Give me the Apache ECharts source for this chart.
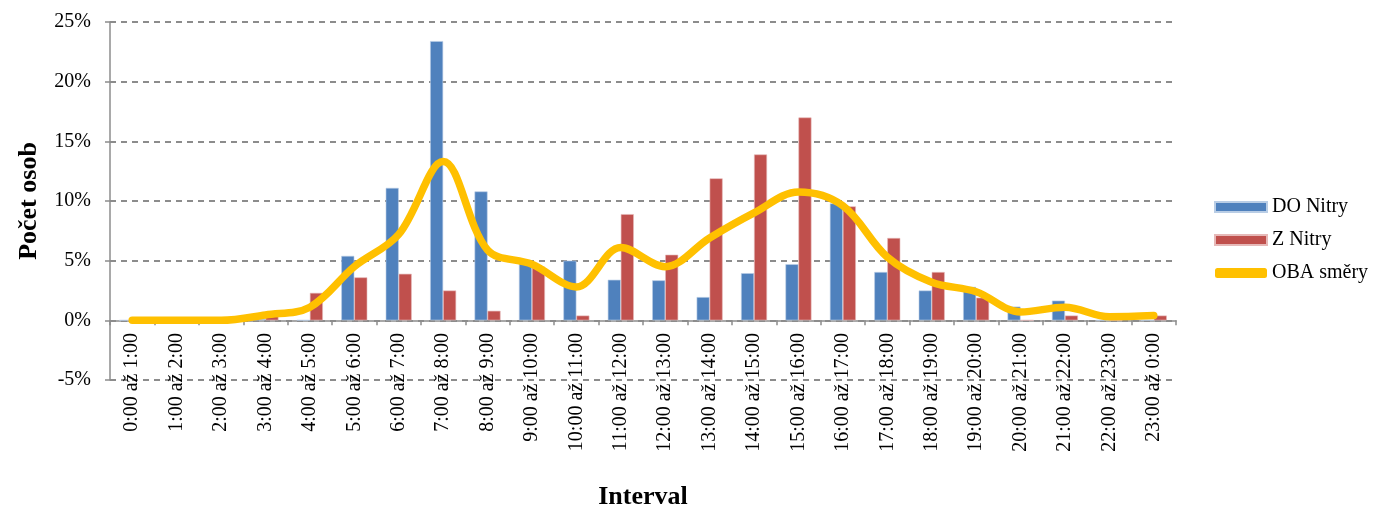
<!DOCTYPE html>
<html>
<head>
<meta charset="utf-8">
<script src="https://cdn.jsdelivr.net/npm/echarts@6/dist/echarts.min.js"></script>
<style>
  html, body { margin: 0; padding: 0; background: #fff; }
  #chart { width: 1375px; height: 506px; }
</style>
</head>
<body>
<div id="chart"></div>
<script>
var categories = ['0:00 až 1:00', '1:00 až 2:00', '2:00 až 3:00', '3:00 až 4:00', '4:00 až 5:00',
  '5:00 až 6:00', '6:00 až 7:00', '7:00 až 8:00', '8:00 až 9:00', '9:00 až 10:00', '10:00 až 11:00',
  '11:00 až 12:00', '12:00 až 13:00', '13:00 až 14:00', '14:00 až 15:00', '15:00 až 16:00',
  '16:00 až 17:00', '17:00 až 18:00', '18:00 až 19:00', '19:00 až 20:00', '20:00 až 21:00',
  '21:00 až 22:00', '22:00 až 23:00', '23:00 až 0:00'];

// percentages
var doNitry = [0, 0, 0, 0.1, 0, 5.4, 11.1, 23.4, 10.8, 5.0, 5.0, 3.4, 3.35, 1.95, 3.95, 4.7,
  9.8, 4.05, 2.5, 2.8, 1.15, 1.65, 0, 0];
var zNitry = [0, 0, 0, 0.7, 2.3, 3.6, 3.9, 2.5, 0.8, 4.5, 0.4, 8.9, 5.5, 11.9, 13.9, 17.0,
  9.55, 6.9, 4.05, 1.9, 0, 0.4, 0, 0.4];
var obaSmery = [0, 0, 0, 0.45, 1.1, 4.5, 7.2, 13.3, 5.9, 4.7, 2.8, 6.1, 4.5, 6.9, 9.0, 10.75,
  9.6, 5.3, 3.2, 2.4, 0.7, 1.1, 0.3, 0.4];

var yTicks = { min: -5, max: 25, step: 5 };

var font = '"Liberation Serif", "Times New Roman", serif';

var myChart = echarts.init(document.getElementById('chart'));
var option = {
  animation: false,
  textStyle: { fontFamily: font },
  grid: { left: 110, right: 199, top: 22, bottom: 126, containLabel: false, outerBoundsMode: 'none' },
  legend: {
    orient: 'vertical',
    left: 1209,
    top: 192,
    itemWidth: 52,
    itemHeight: 10,
    itemGap: 13,
    textStyle: { fontFamily: font, fontSize: 20, color: '#000' },
    data: [
      { name: 'DO Nitry', icon: 'rect' },
      { name: 'Z Nitry', icon: 'rect' },
      { name: 'OBA směry', icon: 'roundRect' }
    ]
  },
  xAxis: {
    type: 'category',
    data: categories,
    name: 'Interval',
    nameLocation: 'middle',
    nameGap: 104,
    nameMoveOverlap: false,
    nameTextStyle: { fontFamily: font, fontSize: 26, fontWeight: 'bold', color: '#000' },
    axisLine: { onZero: true, lineStyle: { color: '#8c8c8c', width: 1.5 } },
    axisTick: { show: true, alignWithLabel: false, length: 5, lineStyle: { color: '#8c8c8c', width: 1.5 } },
    axisLabel: { rotate: 90, interval: 0, fontSize: 20, color: '#000', margin: -47, fontFamily: font },
    splitLine: { show: false }
  },
  yAxis: {
    type: 'value',
    min: yTicks.min,
    max: yTicks.max,
    interval: yTicks.step,
    name: 'Počet osob',
    nameLocation: 'middle',
    nameGap: 68,
    nameMoveOverlap: false,
    nameTextStyle: { fontFamily: font, fontSize: 26, fontWeight: 'bold', color: '#000' },
    axisLine: { show: true, lineStyle: { color: '#8c8c8c', width: 1.5 } },
    axisTick: { show: true, length: 5, lineStyle: { color: '#8c8c8c', width: 1.5 } },
    axisLabel: { formatter: '{value}%', fontSize: 20, color: '#000', margin: 19, fontFamily: font },
    splitLine: { show: true, lineStyle: { color: '#8c8c8c', type: [6, 5], width: 2 } }
  },
  series: [
    {
      name: 'DO Nitry',
      type: 'bar',
      data: doNitry,
      barWidth: 13,
      barGap: '0%',
      itemStyle: { color: '#4F81BD', borderColor: '#b9cde5', borderWidth: 0.6 }
    },
    {
      name: 'Z Nitry',
      type: 'bar',
      data: zNitry,
      barWidth: 13,
      barGap: '0%',
      itemStyle: { color: '#C0504D', borderColor: '#e6b9b8', borderWidth: 0.6 }
    },
    {
      name: 'OBA směry',
      type: 'line',
      data: obaSmery,
      smooth: 0.35,
      symbol: 'none',
      lineStyle: { color: '#FFC000', width: 7.5, cap: 'round' },
      itemStyle: { color: '#FFC000' },
      z: 5
    }
  ]
};
myChart.setOption(option);
</script>
</body>
</html>
